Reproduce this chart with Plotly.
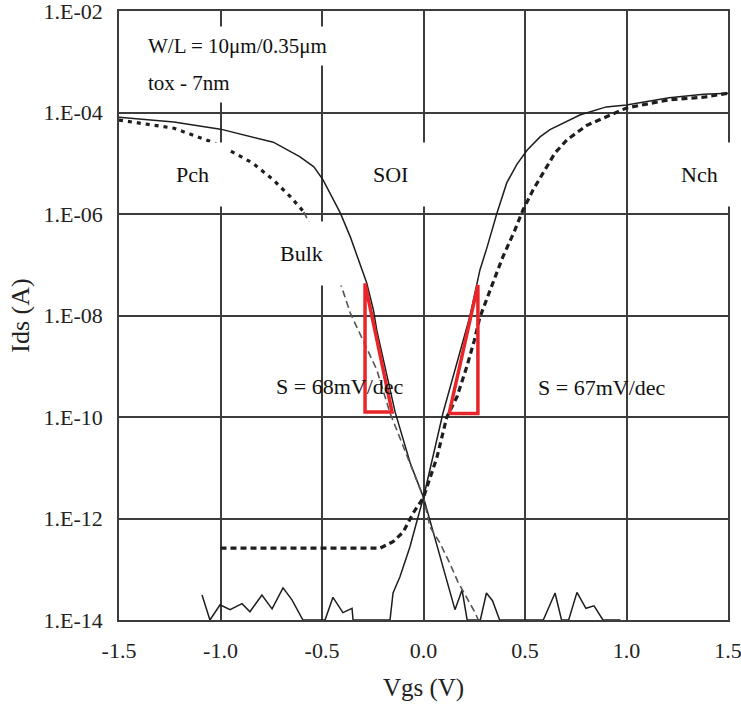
import plotly.graph_objects as go

# ---------------- data ----------------
# SOI p-channel (solid)
soi_p_v = [-1.5, -1.23, -1.0, -0.74, -0.61, -0.54, -0.495, -0.46, -0.41, -0.36, -0.313, -0.28, -0.247,
           -0.23, -0.14, -0.066, 0.0, 0.07, 0.145, 0.155, 0.19, 0.215, 0.28, 0.31, 0.34, 0.375,
           0.59, 0.648, 0.68, 0.715, 0.756, 0.80, 0.84, 0.884, 0.97]
soi_p_i = [8.1e-5, 6.5e-5, 4.7e-5, 2.6e-5, 1.35e-5, 8.5e-6, 4.7e-6, 2.6e-6, 1.05e-6, 3.5e-7, 1.07e-7, 4.4e-8, 1.3e-8,
           5.1e-9, 1.26e-10, 1.26e-11, 2.6e-12, 2.5e-13, 2.0e-14, 1.6e-14, 3.9e-14, 1.0e-14, 1.0e-14, 3.4e-14, 2.4e-14, 1.0e-14,
           1.0e-14, 3.4e-14, 1.0e-14, 1.0e-14, 3.5e-14, 1.7e-14, 1.9e-14, 1.0e-14, 1.0e-14]

# bulk p-channel (dotted upper part, thin dashed lower part)
bulk_p_v = [-1.5, -1.23, -1.04, -0.94, -0.84, -0.74, -0.656, -0.59,
            -0.41, -0.36, -0.31, -0.23, -0.165, -0.1, -0.03, 0.0, 0.032, 0.081, 0.13, 0.17, 0.254, 0.27]
bulk_p_i = [7.1e-5, 4.9e-5, 2.6e-5, 1.66e-5, 1.0e-5, 4.7e-6, 2.2e-6, 1.1e-6,
            4.4e-8, 1.1e-8, 4.0e-9, 8.5e-10, 1.2e-10, 2.6e-11, 5.0e-12, 2.6e-12, 6.8e-13, 3.3e-13, 1.3e-13, 5.6e-14, 1.4e-14, 1.0e-14]
bulk_p_split = 7  # index where the dotted part turns into the thin dashed part

# SOI n-channel (solid)
soi_n_v = [-1.091, -1.052, -1.002, -0.953, -0.894, -0.855, -0.796, -0.746, -0.692, -0.648, -0.594,
           -0.485, -0.446, -0.397, -0.352, -0.347, -0.165, -0.15, -0.116, -0.067, -0.027, 0.0,
           0.096, 0.229, 0.278, 0.313, 0.362, 0.41, 0.46, 0.51, 0.574, 0.623, 0.77, 0.9, 1.0, 1.21, 1.38, 1.5]
soi_n_i = [3.1e-14, 1.0e-14, 2.0e-14, 1.6e-14, 2.1e-14, 1.45e-14, 3.1e-14, 1.66e-14, 4.3e-14, 2.5e-14, 1.0e-14,
           1.0e-14, 2.8e-14, 1.4e-14, 1.7e-14, 1.0e-14, 1.0e-14, 3.4e-14, 7.1e-14, 2.75e-13, 1.07e-12, 2.6e-12,
           1.2e-10, 9.8e-9, 7.9e-8, 2.2e-7, 1.05e-6, 4.1e-6, 9.5e-6, 1.8e-5, 3.3e-5, 4.6e-5, 8.9e-5, 1.29e-4, 1.41e-4, 1.95e-4, 2.3e-4, 2.4e-4]

# bulk n-channel (dotted)
bulk_n_v = [-1.0, -0.6, -0.214, -0.15, -0.10, -0.05, 0.0, 0.066, 0.115, 0.165, 0.214, 0.25, 0.278, 0.342,
            0.39, 0.45, 0.49, 0.54, 0.6, 0.648, 0.707, 0.805, 0.92, 1.0, 1.21, 1.38, 1.5]
bulk_n_i = [2.6e-13, 2.6e-13, 2.6e-13, 3.5e-13, 5.4e-13, 1.3e-12, 2.6e-12, 1.6e-11, 1.0e-10, 2.5e-10, 1.0e-9, 3.2e-9, 9.3e-9, 4.4e-8,
            1.4e-7, 4.8e-7, 1.2e-6, 3.0e-6, 7.4e-6, 1.6e-5, 2.9e-5, 5.6e-5, 8.9e-5, 1.23e-4, 1.78e-4, 2.0e-4, 2.4e-4]

# slope-marker triangles
tri_left_v = [-0.288, -0.288, -0.155, -0.288]
tri_left_i = [4.3e-8, 1.26e-10, 1.26e-10, 4.3e-8]
tri_right_v = [0.126, 0.268, 0.268, 0.126]
tri_right_i = [1.17e-10, 1.17e-10, 4.0e-8, 1.17e-10]

# axes
x_ticks = [-1.5, -1.0, -0.5, 0.0, 0.5, 1.0, 1.5]
x_ticktext = ["-1.5", "-1.0", "-0.5", "0.0", "0.5", "1.0", "1.5"]
y_ticks = [1e-14, 1e-12, 1e-10, 1e-8, 1e-6, 1e-4, 1e-2]
y_ticktext = ["1.E-14", "1.E-12", "1.E-10", "1.E-08", "1.E-06", "1.E-04", "1.E-02"]

# ---------------- figure ----------------
FONT = "Liberation Serif"
GRID = "#3c3c3c"
INK = "#1e1e1e"

fig = go.Figure()

fig.add_trace(go.Scatter(x=soi_p_v, y=soi_p_i, mode="lines",
                         line=dict(color=INK, width=1.5), name="SOI Pch"))
fig.add_trace(go.Scatter(x=bulk_p_v[:bulk_p_split + 1], y=bulk_p_i[:bulk_p_split + 1], mode="lines",
                         line=dict(color=INK, width=3.2, dash="4px,5px"), name="Bulk Pch"))
fig.add_trace(go.Scatter(x=bulk_p_v[bulk_p_split:], y=bulk_p_i[bulk_p_split:], mode="lines",
                         line=dict(color="#555555", width=1.6, dash="7px,4px"), name="Bulk Pch (sub)"))
fig.add_trace(go.Scatter(x=soi_n_v, y=soi_n_i, mode="lines",
                         line=dict(color=INK, width=1.5), name="SOI Nch"))
fig.add_trace(go.Scatter(x=bulk_n_v, y=bulk_n_i, mode="lines",
                         line=dict(color=INK, width=3.2, dash="6px,4px"), name="Bulk Nch"))
fig.add_trace(go.Scatter(x=tri_left_v, y=tri_left_i, mode="lines",
                         line=dict(color="#e8262a", width=3.5), name="S Pch"))
fig.add_trace(go.Scatter(x=tri_right_v, y=tri_right_i, mode="lines",
                         line=dict(color="#e8262a", width=3.5), name="S Nch"))

labels = [
    ("W/L = 10μm/0.35μm", 0.034, 0.943, "left", 21, 7),
    ("tox - 7nm", 0.034, 0.882, "left", 21, 7),
    ("Pch", 0.1215, 0.731, "center", 22, 19),
    ("SOI", 0.445, 0.731, "center", 22, 19),
    ("Nch", 0.954, 0.731, "center", 22, 19),
    ("Bulk", 0.299, 0.602, "center", 22, 19),
]
for text, x, y, xa, fs, pad in labels:
    fig.add_annotation(text=text, x=x, y=y, xref="paper", yref="paper", xanchor=xa, yanchor="middle",
                       showarrow=False, bgcolor="white", borderpad=pad,
                       font=dict(family=FONT, size=fs, color="#111111"))

for text, x, y in [("S = 68mV/dec", 0.363, 0.384), ("S = 67mV/dec", 0.793, 0.381)]:
    fig.add_annotation(text=text, x=x, y=y, xref="paper", yref="paper", xanchor="center", yanchor="middle",
                       showarrow=False, font=dict(family=FONT, size=22, color="#111111"))

fig.update_xaxes(range=[-1.5, 1.5], tickvals=x_ticks, ticktext=x_ticktext, automargin=False,
                 ticklabeloverflow="allow",
                 showgrid=True, gridcolor=GRID, gridwidth=1.6, zeroline=False,
                 showline=True, mirror=True, linecolor=GRID, linewidth=1.6,
                 ticks="", ticklabelstandoff=10,
                 tickfont=dict(family=FONT, size=22, color="#222222"),
                 title=dict(text="Vgs (V)", font=dict(family=FONT, size=25, color="#222222"), standoff=16))
fig.update_yaxes(type="log", range=[-14, -2], tickvals=y_ticks, ticktext=y_ticktext, automargin=False,
                 ticklabeloverflow="allow",
                 showgrid=True, gridcolor=GRID, gridwidth=1.6, zeroline=False,
                 showline=True, mirror=True, linecolor=GRID, linewidth=1.6,
                 ticks="", ticklabelstandoff=10,
                 tickfont=dict(family=FONT, size=22, color="#222222"),
                 title=dict(text="Ids (A)", font=dict(family=FONT, size=26, color="#222222"), standoff=6))

fig.update_layout(width=741, height=704, margin=dict(l=119, r=13, t=11, b=84),
                  paper_bgcolor="white", plot_bgcolor="white", showlegend=False,
                  hovermode=False)

fig.write_html("out.html")
